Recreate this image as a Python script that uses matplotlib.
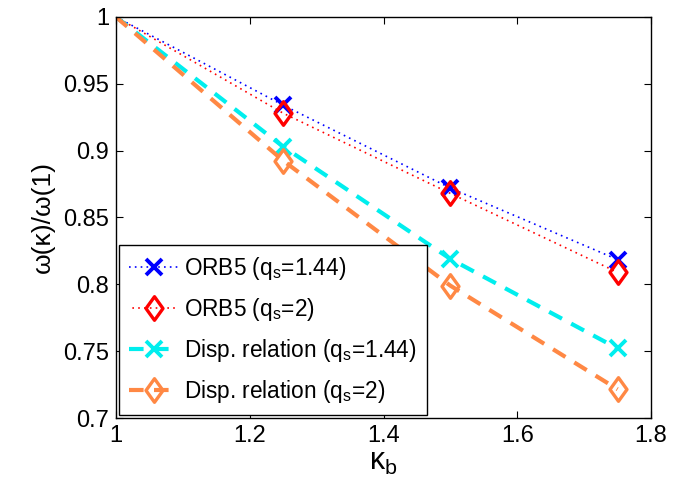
import numpy as np
import matplotlib
matplotlib.use("Agg")
import matplotlib.pyplot as plt
from matplotlib.path import Path

plt.rcParams['font.family'] = ['Liberation Sans', 'DejaVu Sans']
plt.rcParams['mathtext.fontset'] = 'custom'
plt.rcParams['mathtext.rm'] = 'Liberation Sans'
plt.rcParams['mathtext.it'] = 'Liberation Sans'

# data
kappa = [1.0, 1.25, 1.5, 1.75]
orb5_q144 = [1.0, 0.934, 0.872, 0.8185]
orb5_q2 = [1.0, 0.928, 0.868, 0.809]
disp_q144 = [1.0, 0.903, 0.819, 0.752]
disp_q2 = [1.0, 0.8925, 0.799, 0.7215]

labels = ["ORB5 (q$_\\mathrm{s}$=1.44)", "ORB5 (q$_\\mathrm{s}$=2)",
          "Disp. relation (q$_\\mathrm{s}$=1.44)", "Disp. relation (q$_\\mathrm{s}$=2)"]

# matlab style diamond (taller than wide)
diamond = Path([(0, 1), (0.72, 0), (0, -1), (-0.72, 0), (0, 1)],
               [Path.MOVETO, Path.LINETO, Path.LINETO, Path.LINETO, Path.CLOSEPOLY])

fig = plt.figure(figsize=(6.92, 4.99), dpi=100)
ax = fig.add_axes([0.1676, 0.1623, 0.7732, 0.8037])

mk = [1, 2, 3]
ax.plot(kappa, orb5_q144, color='#0000ff', ls=(0, (1, 2.5)), lw=1.2,
        marker='x', ms=11, mew=2.8, markevery=mk, label=labels[0])
ax.plot(kappa, orb5_q2, color='#ff0000', ls=(1.5, (1, 2.5)), lw=1.2,
        marker=diamond, ms=17, mew=2.4, mfc='none', markevery=mk, label=labels[1])
ax.plot(kappa, disp_q144, color='#00eeee', ls=(0, (3.5, 2.5)), lw=3.0,
        marker='x', ms=11, mew=2.8, markevery=mk, label=labels[2])
ax.plot(kappa, disp_q2, color='#ff8844', ls=(0, (3.5, 2.5)), lw=3.0,
        marker=diamond, ms=17, mew=2.4, mfc='none', markevery=mk, label=labels[3])

ax.set_xlim(1, 1.8)
ax.set_ylim(0.7, 1.0)
ax.set_xticks([1, 1.2, 1.4, 1.6, 1.8])
ax.set_xticklabels(['1', '1.2', '1.4', '1.6', '1.8'])
ax.set_yticks([0.7, 0.75, 0.8, 0.85, 0.9, 0.95, 1.0])
ax.set_yticklabels(['0.7', '0.75', '0.8', '0.85', '0.9', '0.95', '1'])
ax.tick_params(direction='in', top=True, right=True, labelsize=17, length=5, pad=5)
for s in ax.spines.values():
    s.set_linewidth(1.0)

ax.set_xlabel("κ$_\\mathrm{b}$", fontsize=22, labelpad=0)
ax.set_ylabel("ω(κ)/ω(1)", fontsize=19, labelpad=6)

leg = ax.legend(loc='lower left', fontsize=16.3, fancybox=False, framealpha=1,
                edgecolor='black', borderaxespad=0.12, handlelength=2.2,
                labelspacing=0.62, handletextpad=0.25, borderpad=0.45)
leg.get_frame().set_linewidth(1.0)

fig.savefig('out.png', dpi=100)
